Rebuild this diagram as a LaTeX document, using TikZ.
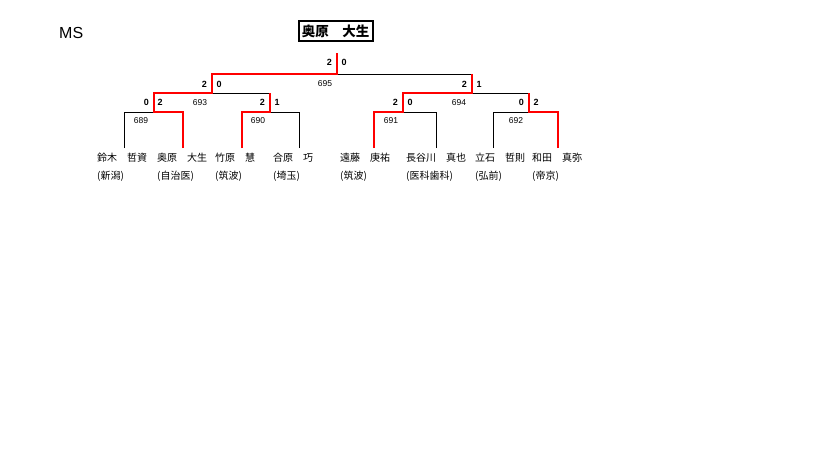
\documentclass[tikz,border=0pt]{standalone}
\usepackage{fontspec}
\setmainfont{Liberation Sans}
\newfontfamily\jp{Noto Sans CJK JP}
\begin{document}
\begin{tikzpicture}[x=1pt,y=-1pt,
  bline/.style={draw=black,line width=0.9pt},
  win/.style={draw=red,line width=2pt},
  score/.style={font=\fontsize{9}{10}\selectfont\bfseries,inner sep=0pt},
  mno/.style={font=\fontsize{8.5}{9}\selectfont,inner sep=0pt},
  pname/.style={font=\jp\fontsize{10}{11}\selectfont,inner sep=0pt,anchor=west},
  title/.style={font=\jp\fontsize{13.5}{14}\selectfont\bfseries,draw=black,line width=2pt,minimum width=74pt,minimum height=19.5pt,inner sep=0pt}]
\useasboundingbox[fill=white] (0,0) rectangle (819,460);

\node[font=\fontsize{16}{17}\selectfont,inner sep=0pt,anchor=west] (ms) at (59,32.5) {MS};
\node[title] (champ) at (335.5,31) {奥原　大生};

% leaf bottoms
\coordinate (a1) at (124,148);
\coordinate (a2) at (183,148);
\coordinate (a3) at (242,148);
\coordinate (a4) at (299,148);
\coordinate (a5) at (374,148);
\coordinate (a6) at (436,148);
\coordinate (a7) at (493,148);
\coordinate (a8) at (558,148);
% junctions
\coordinate (j689) at (154,112);
\coordinate (j690) at (270,112);
\coordinate (j691) at (403,112);
\coordinate (j692) at (529,112);
\coordinate (j693) at (212,93);
\coordinate (j694) at (472,93);
\coordinate (j695) at (337,74);
\coordinate (top) at (337,53);

% black lines
\draw[bline] (a1) |- (j689);
\draw[bline] (a4) |- (j690);
\draw[bline] (a6) |- (j691);
\draw[bline] (a7) |- (j692);
\draw[bline] (j693) -| (j690);
\draw[bline] (j694) -| (j692);
\draw[bline] (j695) -| (j694);

% red winner paths
\draw[win] (a2) |- (j689) |- (j693) |- (j695) -- (top);
\draw[win] (a3) |- (j690) -- (j690 |- j693);
\draw[win] (a5) |- (j691) |- (j694) -- (j694 |- j695);
\draw[win] (a8) |- (j692) -- (j692 |- j694);

% scores
\node[score,anchor=east] (s695l) at (332,62) {2};
\node[score,anchor=west] (s695r) at (341.5,62) {0};
\node[score,anchor=east] (s693l) at (207,84) {2};
\node[score,anchor=west] (s693r) at (216.5,84) {0};
\node[score,anchor=east] (s694l) at (467,84) {2};
\node[score,anchor=west] (s694r) at (476.5,84) {1};
\node[score,anchor=east] (s689l) at (149,102.5) {0};
\node[score,anchor=west] (s689r) at (157.5,102.5) {2};
\node[score,anchor=east] (s690l) at (265,102.5) {2};
\node[score,anchor=west] (s690r) at (274.5,102.5) {1};
\node[score,anchor=east] (s691l) at (398,102.5) {2};
\node[score,anchor=west] (s691r) at (407.5,102.5) {0};
\node[score,anchor=east] (s692l) at (524,102.5) {0};
\node[score,anchor=west] (s692r) at (533.5,102.5) {2};

% match numbers
\node[mno] (n695) at (325,84) {695};
\node[mno] (n693) at (200,102.5) {693};
\node[mno] (n694) at (459,102.5) {694};
\node[mno] (n689) at (141,121) {689};
\node[mno] (n690) at (258,121) {690};
\node[mno] (n691) at (391,121) {691};
\node[mno] (n692) at (516,121) {692};

% names
\node[pname] (p1) at (97,158) {鈴木　哲資};
\node[pname] (p2) at (157,158) {奥原　大生};
\node[pname] (p3) at (215,158) {竹原　慧};
\node[pname] (p4) at (273,158) {合原　巧};
\node[pname] (p5) at (340,158) {遠藤　庚祐};
\node[pname] (p6) at (406,158) {長谷川　真也};
\node[pname] (p7) at (475,158) {立石　哲則};
\node[pname] (p8) at (532,158) {和田　真弥};
\node[pname] (c1) at (97,176) {(新潟)};
\node[pname] (c2) at (157,176) {(自治医)};
\node[pname] (c3) at (215,176) {(筑波)};
\node[pname] (c4) at (273,176) {(埼玉)};
\node[pname] (c5) at (340,176) {(筑波)};
\node[pname] (c6) at (406,176) {(医科歯科)};
\node[pname] (c7) at (475,176) {(弘前)};
\node[pname] (c8) at (532,176) {(帝京)};
\end{tikzpicture}
\end{document}
